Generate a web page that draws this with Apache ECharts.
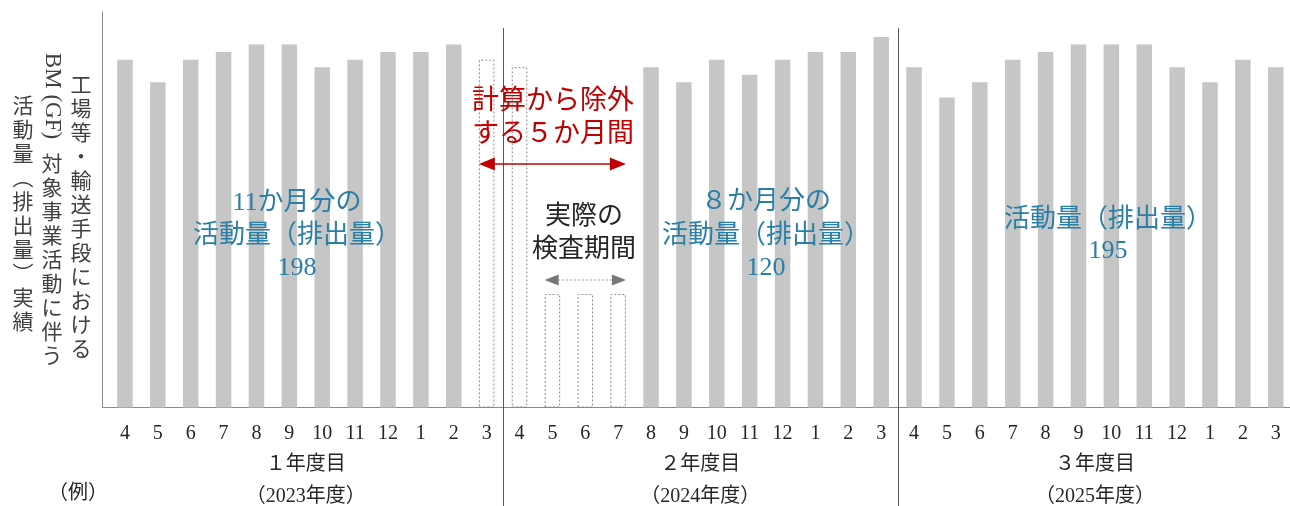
<!DOCTYPE html>
<html><head><meta charset="utf-8">
<script src="https://cdn.jsdelivr.net/npm/echarts@6/dist/echarts.min.js"></script>
<style>html,body{margin:0;padding:0;background:#fff}#c{width:1290px;height:506px}</style>
</head><body><div id="c"></div>
<script>
// ---- data ----
const months = ['4','5','6','7','8','9','10','11','12','1','2','3'];
const categories = months.concat(months, months);
const yearLabels = ['１年度目\n（2023年度）', '２年度目\n（2024年度）', '３年度目\n（2025年度）'];
// solid bars: activity (emissions) used in calculation
const actualValues = [
  46, 43, 46, 47, 48, 48, 45, 46, 47, 47, 48, null,
  null, null, null, null, 45, 43, 46, 44, 46, 47, 47, 49,
  45, 41, 43, 46, 47, 48, 48, 48, 45, 43, 46, 45
];
// dashed bars: months excluded from calculation
const excludedValues = [
  null, null, null, null, null, null, null, null, null, null, null, 46,
  45, 15, 15, 15, null, null, null, null, null, null, null, null,
  null, null, null, null, null, null, null, null, null, null, null, null
];
const totals = ['198', '120', '195'];

const SERIF = '"Liberation Serif", "Noto Sans CJK JP", serif';
const JP = '"Noto Sans CJK JP", "Liberation Serif", sans-serif';
const BAR_W = 15.5;

const chart = echarts.init(document.getElementById('c'), null, {renderer: 'canvas'});
chart.setOption({
  animation: false,
  backgroundColor: '#fff',
  grid: {left: 108.5, right: -2.2, top: 12, bottom: 98.5, containLabel: false, outerBoundsMode: 'none'},
  xAxis: [{
    type: 'category', data: categories,
    axisLine: {show: true, lineStyle: {color: '#8a8a8a', width: 1}},
    axisTick: {show: false},
    axisLabel: {interval: 0, margin: 16, fontSize: 20, color: '#262626', fontFamily: SERIF}
  }, {
    type: 'category', data: yearLabels, position: 'bottom',
    axisLine: {show: false}, axisTick: {show: false}, splitLine: {show: false},
    axisLabel: {interval: 0, margin: 41, fontSize: 20, lineHeight: 32, color: '#262626', fontFamily: SERIF}
  }],
  yAxis: {
    type: 'value', min: 0, max: 52.3, offset: 6.5,
    axisLine: {show: true, lineStyle: {color: '#8a8a8a', width: 1}},
    axisTick: {show: false}, axisLabel: {show: false}, splitLine: {show: false}
  },
  series: [{
    type: 'bar', data: actualValues, barWidth: BAR_W, barGap: '-100%',
    itemStyle: {color: '#c6c6c6'}
  }, {
    type: 'bar', data: excludedValues, barWidth: BAR_W, barGap: '-100%',
    itemStyle: {color: '#ffffff', borderColor: '#8c8c8c', borderWidth: 1, borderType: [2, 2]}
  }]
});

// ---- annotations, positioned from the axes ----
const x0 = chart.convertToPixel({xAxisIndex: 0}, 0);
const x1 = chart.convertToPixel({xAxisIndex: 0}, 1);
const band = x1 - x0;
const X = f => x0 + f * band;
const base = chart.convertToPixel({yAxisIndex: 0}, 0);
const g = [];

function text(x, y, t, font, color, extra) {
  g.push(Object.assign({type: 'text', x: x, y: y, z: 100,
    style: Object.assign({text: t, font: font, fill: color, textAlign: 'center', textVerticalAlign: 'middle'}, extra || {})}));
}
function line(xa, ya, xb, yb, color, w, dash) {
  g.push({type: 'line', z: 90, shape: {x1: xa, y1: ya, x2: xb, y2: yb},
    style: {stroke: color, lineWidth: w, lineDash: dash || null}});
}
function arrow(xa, xb, y, color, hl, hh, shaftColor, w, dash) {
  line(xa + hl - 1, y, xb - hl + 1, y, shaftColor, w, dash);
  g.push({type: 'polygon', z: 91, shape: {points: [[xa, y], [xa + hl, y - hh / 2], [xa + hl, y + hh / 2]]}, style: {fill: color}});
  g.push({type: 'polygon', z: 91, shape: {points: [[xb, y], [xb - hl, y - hh / 2], [xb - hl, y + hh / 2]]}, style: {fill: color}});
}

// extend baseline to y-axis line
line(X(-0.5) - 6.5, base, X(-0.5), base, '#8a8a8a', 1);
// year separators
line(Math.round(X(11.5)) + 0.5, 28, Math.round(X(11.5)) + 0.5, 506, '#595959', 1);
line(Math.round(X(23.5)) + 0.5, 28, Math.round(X(23.5)) + 0.5, 506, '#595959', 1);

// (例)
text(78, 494, '（例）', '20px ' + SERIF, '#262626');

// vertical axis title (three columns)
function vcol(x, top, chars, size) {
  text(x, top, chars.split('').join('\n'), size + 'px ' + JP, '#404040', {textVerticalAlign: 'top', lineHeight: 24});
}
vcol(81, 72, '工場等・輸送手段における', 21);
g.push({type: 'text', x: 52, y: 96, rotation: -Math.PI / 2, z: 100,
  style: {text: 'BM (GF)', font: '23px ' + SERIF, fill: '#404040', textAlign: 'center', textVerticalAlign: 'middle'}});
vcol(52, 151, '対象事業活動に伴う', 21);
vcol(23, 93, '活動量︵排出量︶実績', 21);

// blue labels
const BLUE = '#2a7fa6';
text(X(5.23), 203, '11か月分の', '26px ' + SERIF, BLUE);
text(X(5.23), 236, '活動量（排出量）', '26px ' + SERIF, BLUE);
text(X(5.23), 268, totals[0], '26px ' + SERIF, BLUE);
text(X(19.5), 202, '８か月分の', '26px ' + SERIF, BLUE);
text(X(19.5), 236, '活動量（排出量）', '26px ' + SERIF, BLUE);
text(X(19.5), 268, totals[1], '26px ' + SERIF, BLUE);
text(X(29.9), 220, '活動量（排出量）', '26px ' + SERIF, BLUE);
text(X(29.9), 251, totals[2], '26px ' + SERIF, BLUE);

// red excluded-period label and arrow
const RED = '#c00000';
text(X(13.02), 102, '計算から除外', '27px ' + SERIF, RED);
text(X(13.02), 135, 'する５か月間', '27px ' + SERIF, RED);
arrow(X(11) - BAR_W / 2, X(15) + BAR_W / 2, 164, RED, 16, 13, RED, 1.5);

// actual inspection period
text(X(13.96), 217, '実際の', '26px ' + SERIF, '#262626');
text(X(13.96), 250, '検査期間', '26px ' + SERIF, '#262626');
arrow(X(13) - BAR_W / 2, X(15) + BAR_W / 2, 280, '#767676', 14, 11, '#9a9a9a', 1, [2, 2]);

chart.setOption({graphic: g});
</script>
</body></html>
